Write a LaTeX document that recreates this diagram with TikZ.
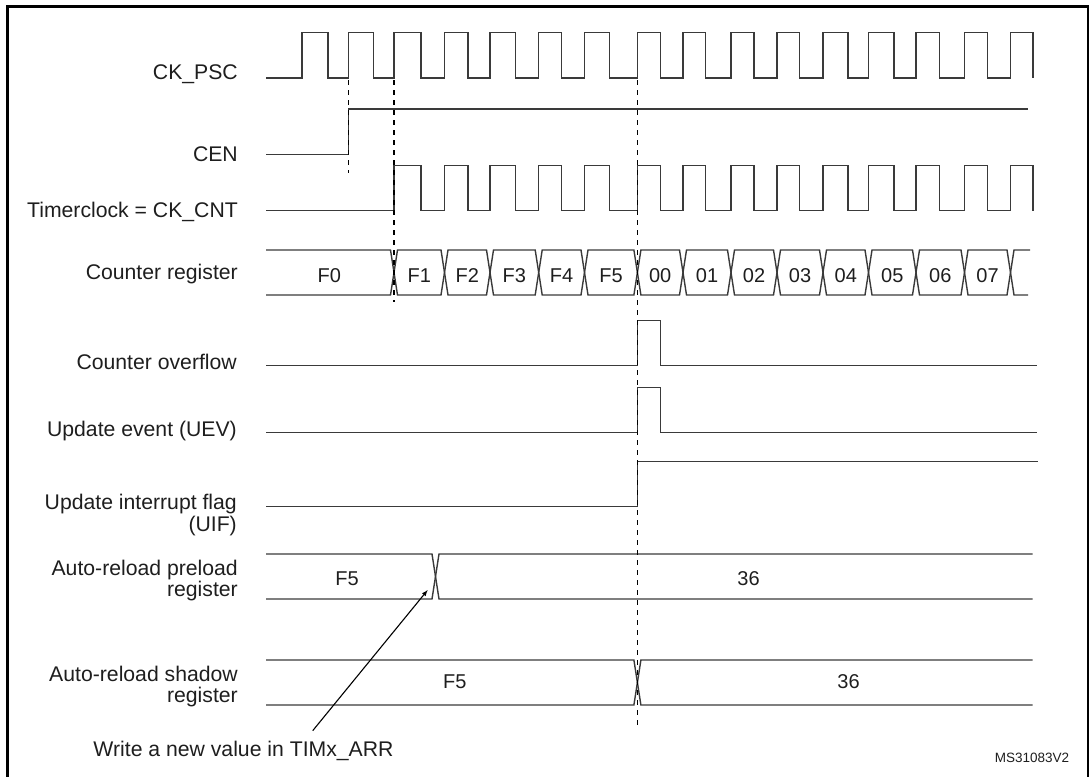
\documentclass[tikz,border=0pt]{standalone}
\usepackage{fontspec}
\setmainfont{Liberation Sans}
\usetikzlibrary{positioning}
\tikzstyle{timing} = [x = 1pt, y = -1pt]
\definecolor{waveColor}{RGB}{58,58,58}
\definecolor{textColor}{RGB}{30,30,30}
\newcommand{\signalFont}{\fontsize{21.2}{21.7}\selectfont}
\newcommand{\valueFont}{\fontsize{20}{22}\selectfont}
\newcommand{\idFont}{\fontsize{13.5}{15}\selectfont}
\tikzstyle{waveLine} = [color=waveColor, line width=1.4pt, line join=miter]
\tikzstyle{markerLine} = [color=black, line width=1.3pt, dash pattern=on 5pt off 5pt]
\tikzstyle{frameLine} = [color=black, line width=2.6pt]
\tikzstyle{noteArrow} = [color=black, line width=1.1pt, -latex]
\tikzstyle{signalName} = [anchor=base east, inner sep=0pt, align=right, text=textColor, font=\signalFont]
\tikzstyle{busValue} = [anchor=base, inner sep=0pt, text=textColor, font=\valueFont]
\newcommand{\cross}{3.5}
\newcommand{\waveStart}{266}
\newcommand{\clockEdges}{394/421, 444.5/468, 490/515.6, 538.7/561.5, 584.5/609.5, 637.4/660.3, 683/705.6, 731/754, 777/799.6, 823/848, 868.5/894, 916/939.5, 964.5/987.5, 1010.5/1033}
\edef\prescalerEdges{302/328, 348.3/373.5, \clockEdges}
\newcommand{\clockWave}[3]{\draw [waveLine] (\waveStart, #1) \foreach \rise/\fall in #3 { -- (\rise, #1) -- (\rise, #2) -- (\fall, #2) -- (\fall, #1)};}
\newcommand{\stepWave}[4]{\draw [waveLine] (\waveStart, #1) -- (#3, #1) -- (#3, #2) -- (#4, #2);}
\newcommand{\pulseWave}[5]{\draw [waveLine] (\waveStart, #1) -- (#3, #1) -- (#3, #2) -- (#4, #2) -- (#4, #1) -- (#5, #1);}
\newcommand{\busCell}[4]{\draw [waveLine] (#3, #1/2 + #2/2) -- (#3 + \cross, #1) -- (#4 - \cross, #1) -- (#4, #1/2 + #2/2) -- (#4 - \cross, #2) -- (#3 + \cross, #2) -- cycle;}
\newcommand{\registerLines}[4]{
  \draw [waveLine] (\waveStart, #1) -- (#3 - \cross, #1) -- (#3 + \cross, #2) -- (#4, #2);
  \draw [waveLine] (\waveStart, #2) -- (#3 - \cross, #2) -- (#3 + \cross, #1) -- (#4, #1);
}
\newcommand{\marker}[3]{\draw [markerLine] (#1, #2) -- (#1, #3);}
\begin{document}
\begin{tikzpicture}[timing]
            \useasboundingbox (0, 0) rectangle (1089, 776);
            \clip (0, 0) rectangle (1089, 776);
            \draw [frameLine] (7.7, 6.7) rectangle (1087.8, 800);

            \node [signalName] (ckpscName) at (238, 80) {CK\_PSC};
            \node [signalName] (cenName) at (238, 161) {CEN};
            \node [signalName] (timerclockName) at (238, 217.3) {Timerclock = CK\_CNT};
            \node [signalName] (counterName) at (238, 279.3) {Counter register};
            \node [signalName] (overflowName) at (237, 369.3) {Counter overflow};
            \node [signalName] (uevName) at (237, 436) {Update event (UEV)};
            \node [signalName] (uifName) at (237, 531) {Update interrupt flag\\(UIF)};
            \node [signalName] (preloadName) at (238, 596.7) {Auto-reload preload\\register};
            \node [signalName] (shadowName) at (238, 702.7) {Auto-reload shadow\\register};

            \clockWave{78}{32.7}{\prescalerEdges}
            \stepWave{154.3}{109}{348.3}{1027.5}
            \clockWave{210.7}{165.7}{\clockEdges}

            \draw [waveLine] (\waveStart, 250) -- (394 - \cross, 250) -- (394, 272.5) -- (394 - \cross, 295) -- (\waveStart, 295);
            \node [busValue] (countF0) at (329.4, 282.3) {F0};
            \foreach \cellStart/\cellEnd/\cellText in {394/444.5/F1, 444.5/490/F2, 490/538.7/F3, 538.7/584.5/F4, 584.5/637.4/F5, 637.4/683/00, 683/731/01, 731/777/02, 777/823/03, 823/868.5/04, 868.5/916/05, 916/964.5/06, 964.5/1010.5/07} {
              \busCell{250}{295}{\cellStart}{\cellEnd}
              \node [busValue] (count\cellText) at ({(\cellStart + \cellEnd) / 2}, 282.3) {\cellText};
            }
            \draw [waveLine] (1030, 250) -- (1010.5 + \cross, 250) -- (1010.5, 272.5) -- (1010.5 + \cross, 295) -- (1028, 295);

            \pulseWave{365.7}{320.7}{637.4}{660.3}{1036.7}
            \pulseWave{432.3}{387.3}{637.4}{660.3}{1036.7}
            \stepWave{506.7}{461.5}{637.4}{1038.3}

            \registerLines{554}{599}{435.5}{1032.6}
            \node [busValue] (preloadOld) at (347, 585) {F5};
            \node [busValue] (preloadNew) at (748.6, 585) {36};
            \registerLines{660}{705}{637.4}{1032.6}
            \node [busValue] (shadowOld) at (454.9, 688.3) {F5};
            \node [busValue] (shadowNew) at (848.6, 688.3) {36};

            \marker{348.3}{80}{173}
            \marker{394}{80}{302}
            \marker{637.4}{80}{725}

            \node [busValue, font=\signalFont] (writeNote) at (243.5, 756.7) {Write a new value in TIMx\_ARR};
            \coordinate (writeStart) at (312.7, 730.7);
            \coordinate (writeTip) at (427.7, 590);
            \draw [noteArrow] (writeStart) -- (writeTip);
            \node [signalName, font=\idFont] (figureId) at (1069.4, 762.7) {MS31083V2};
          \end{tikzpicture}
\end{document}
